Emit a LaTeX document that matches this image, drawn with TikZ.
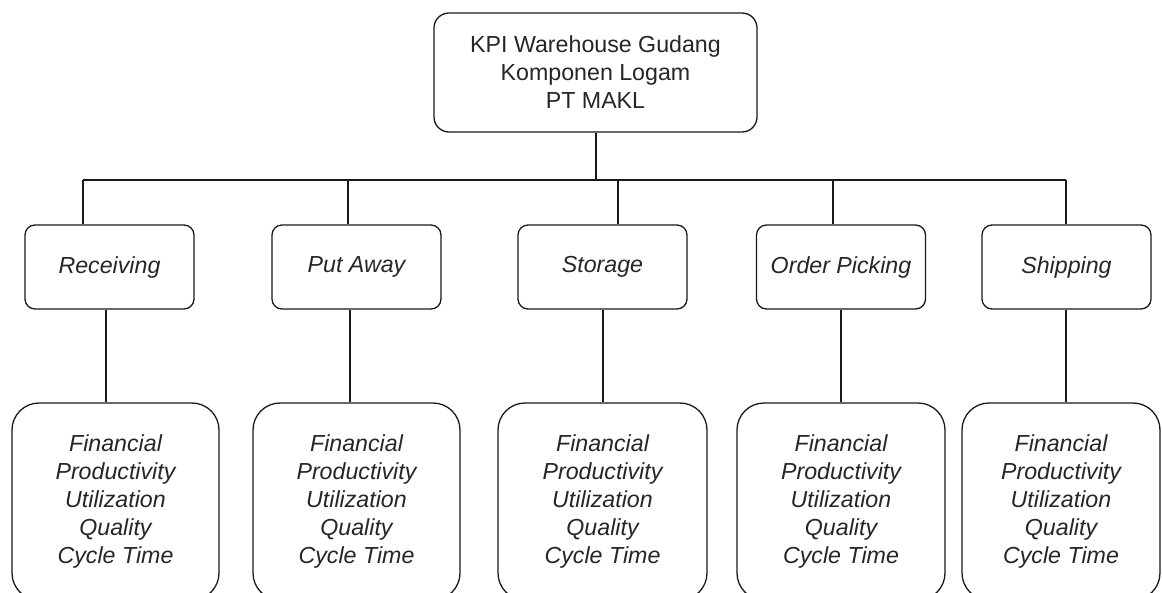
\documentclass[tikz,border=0pt]{standalone}
\usepackage{fontspec}
\setmainfont{Liberation Sans}
\begin{document}
\begin{tikzpicture}[x=1pt,y=-1pt,
  line width=1.3pt,
  box/.style={draw=black!90, line width=1.3pt, align=center, inner sep=0pt,
    text=black!85, font=\fontsize{23.2}{28}\selectfont},
  topbox/.style={box, rounded corners=15pt, minimum width=323pt, minimum height=119pt},
  midbox/.style={box, rounded corners=10pt, minimum width=169pt, minimum height=84pt, font=\fontsize{23.2}{28}\selectfont\itshape},
  kpibox/.style={box, rounded corners=27pt, minimum height=197pt, font=\fontsize{23.2}{28}\selectfont\itshape},
  link/.style={draw=black!90, line width=1.3pt}
]
\useasboundingbox (0,0) rectangle (1162,592);
\clip (0,0) rectangle (1162,592);
\fill[white] (0,0) rectangle (1162,592);

% top
\node[topbox] (top) at (595.5,72.5) {KPI Warehouse Gudang\\Komponen Logam\\PT MAKL};

% middle level
\node[midbox] (rec) at (109.5,267) {Receiving};
\node[midbox] (put) at (356.5,267) {Put Away};
\node[midbox] (sto) at (602.5,267) {Storage};
\node[midbox] (ord) at (841,267) {Order Picking};
\node[midbox] (shi) at (1066.5,267) {Shipping};

% bottom level
\node[kpibox, minimum width=207pt] (recb) at (115.5,501.5) {Financial\\Productivity\\Utilization\\Quality\\Cycle Time};
\node[kpibox, minimum width=207pt] (putb) at (356.5,501.5) {Financial\\Productivity\\Utilization\\Quality\\Cycle Time};
\node[kpibox, minimum width=209pt] (stob) at (602.5,501.5) {Financial\\Productivity\\Utilization\\Quality\\Cycle Time};
\node[kpibox, minimum width=208pt] (ordb) at (841,501.5) {Financial\\Productivity\\Utilization\\Quality\\Cycle Time};
\node[kpibox, minimum width=198pt] (shib) at (1061,501.5) {Financial\\Productivity\\Utilization\\Quality\\Cycle Time};

% bus coordinates
\coordinate (bt) at (596,180);
\coordinate (b1) at (83,180);
\coordinate (b2) at (348,180);
\coordinate (b3) at (618,180);
\coordinate (b4) at (833,180);
\coordinate (b5) at (1066,180);
% lower link x positions
\coordinate (l1) at (106,0);
\coordinate (l2) at (350,0);
\coordinate (l3) at (603,0);
\coordinate (l4) at (841,0);
\coordinate (l5) at (1066,0);

\draw[link] (top.south -| bt) -- (bt);
\draw[link] (b1) -- (b5);
\draw[link] (b1) -- (b1 |- rec.north);
\draw[link] (b2) -- (b2 |- put.north);
\draw[link] (b3) -- (b3 |- sto.north);
\draw[link] (b4) -- (b4 |- ord.north);
\draw[link] (b5) -- (b5 |- shi.north);

\draw[link] (rec.south -| l1) -- (recb.north -| l1);
\draw[link] (put.south -| l2) -- (putb.north -| l2);
\draw[link] (sto.south -| l3) -- (stob.north -| l3);
\draw[link] (ord.south -| l4) -- (ordb.north -| l4);
\draw[link] (shi.south -| l5) -- (shib.north -| l5);
\end{tikzpicture}
\end{document}
